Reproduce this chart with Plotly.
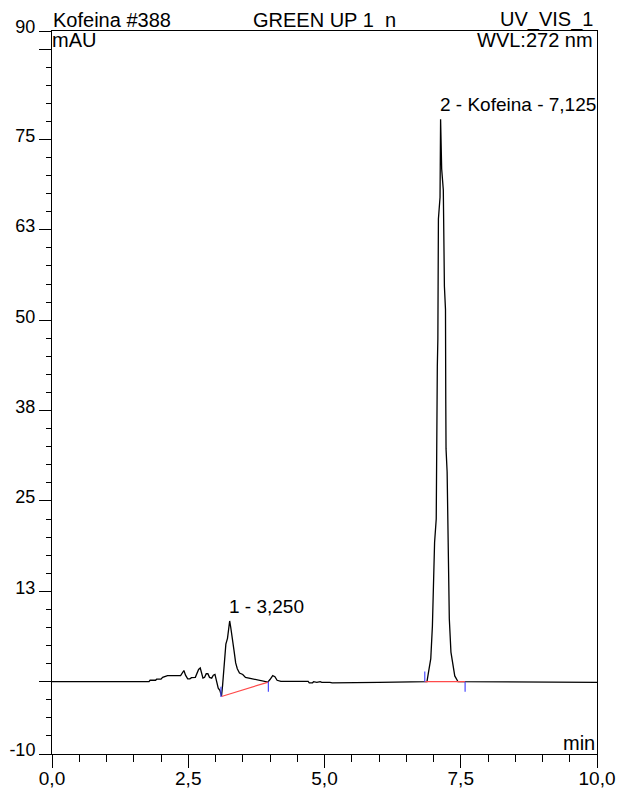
import plotly.graph_objects as go

# chromatogram trace (time in min, signal in mAU)
time_min = [0.0, 1.0, 1.78, 1.80, 1.90, 1.92, 2.00, 2.03, 2.08, 2.12, 2.36, 2.40, 2.42, 2.45,
            2.49, 2.53, 2.56, 2.63, 2.66, 2.69, 2.72, 2.74, 2.77, 2.80, 2.83, 2.86, 2.89, 2.93,
            2.96, 2.99, 3.02, 3.05, 3.08, 3.11, 3.13, 3.16, 3.19, 3.22, 3.26, 3.28, 3.30, 3.32,
            3.34, 3.37, 3.40, 3.44, 3.50, 3.55, 3.62, 3.70, 3.78, 3.86, 3.96, 4.00, 4.05, 4.09,
            4.13, 4.20, 4.70, 4.72, 4.78, 4.80, 4.86, 4.92, 4.95, 5.10, 5.14, 6.00, 6.80, 6.88,
            6.91, 6.95, 6.98, 7.02, 7.05, 7.06, 7.07, 7.08, 7.09, 7.12, 7.13, 7.15, 7.18, 7.20,
            7.22, 7.225, 7.23, 7.25, 7.27, 7.29, 7.32, 7.39, 7.45, 7.55, 7.75, 7.80, 10.0]
signal_mau = [0.0, 0.0, 0.0, 0.2, 0.2, 0.35, 0.35, 0.6, 0.7, 0.85, 0.85, 1.3, 1.55, 0.9,
              0.4, 0.4, 0.55, 0.6, 1.1, 1.7, 1.9, 1.2, 0.5, 0.6, 1.1, 1.1, 0.6, 0.5,
              0.9, 1.0, 0.2, -0.9, -1.2, -2.0, -0.5, 3.0, 5.2, 6.0, 8.4, 7.5, 6.6, 5.6,
              4.3, 2.6, 1.8, 1.2, 1.0, 0.6, 0.5, 0.3, 0.2, 0.1, -0.05, 0.3, 0.85, 0.7,
              0.2, 0.05, 0.05, -0.15, -0.15, 0.0, -0.1, 0.0, -0.1, -0.1, -0.15, -0.1, -0.1, 0.0,
              1.4, 3.2, 7.7, 19.3, 22.5, 39.0, 43.6, 47.4, 64.0, 67.0, 77.8, 70.9, 68.0, 54.7,
              51.5, 39.0, 32.2, 29.0, 15.6, 8.7, 4.1, 0.8, 0.0, 0.0, 0.0, -0.1, -0.1]

# integration baselines (red) and peak delimiters (blue)
baseline_t = [3.11, 3.97, None, 6.84, 7.58]
baseline_v = [-2.05, -0.05, None, 0.0, 0.0]
delim_t = [3.10, 3.10, None, 3.97, 3.97, None, 6.84, 6.84, None, 7.58, 7.58]
delim_v = [-0.7, -2.1, None, 0.0, -1.4, None, 1.4, 0.0, None, 0.0, -1.4]

peak_labels = ["1 - 3,250", "2 - Kofeina - 7,125"]
peak_t = [3.25, 7.125]
peak_v = [8.4, 77.8]

x_tickvals = [0, 2.5, 5, 7.5, 10]
x_ticktext = ["0,0", "2,5", "5,0", "7,5", "10,0"]
y_tickvals = [-10, 0, 12.5, 25, 37.5, 50, 62.5, 75, 87.5, 90]
y_ticktext = ["-10", "", "13", "25", "38", "50", "63", "75", "", "90"]

FONT = "Arial, Liberation Sans, sans-serif"

fig = go.Figure()
fig.add_trace(go.Scatter(x=time_min, y=signal_mau, mode="lines",
                         line=dict(color="black", width=1.3), hoverinfo="skip"))
fig.add_trace(go.Scatter(x=baseline_t, y=baseline_v, mode="lines",
                         line=dict(color="#ff4a4a", width=1.2), hoverinfo="skip"))
fig.add_trace(go.Scatter(x=delim_t, y=delim_v, mode="lines",
                         line=dict(color="#4a4aff", width=1.2), hoverinfo="skip"))

for lab, t, v in zip(peak_labels, peak_t, peak_v):
    fig.add_annotation(x=t, y=v, text=lab, showarrow=False, xanchor="left",
                       yanchor="bottom", yshift=2, xshift=-2,
                       font=dict(size=19, color="black", family=FONT))

hdr = dict(xref="paper", yref="paper", showarrow=False, font=dict(size=20, color="black", family=FONT))
fig.add_annotation(x=0, y=1, text="Kofeina #388", xanchor="left", yanchor="bottom", xshift=-1, yshift=-2, **hdr)
fig.add_annotation(x=0.5, y=1, text="GREEN UP 1  n", xanchor="center", yanchor="bottom", xshift=0, yshift=-2, **hdr)
fig.add_annotation(x=1, y=1, text="UV_VIS_1", xanchor="right", yanchor="bottom", xshift=-2, yshift=-2, **hdr)
fig.add_annotation(x=0, y=1, text="mAU", xanchor="left", yanchor="top", xshift=-2, yshift=4, **hdr)
fig.add_annotation(x=1, y=1, text="WVL:272 nm", xanchor="right", yanchor="top", xshift=-2, yshift=4, **hdr)
fig.add_annotation(x=1, y=0, text="min", xanchor="right", yanchor="bottom", xshift=0, yshift=-2, **hdr)

fig.update_layout(
    width=621, height=797,
    margin=dict(l=52, r=24, t=31, b=43, autoexpand=False),
    paper_bgcolor="white", plot_bgcolor="white",
    showlegend=False,
    font=dict(family=FONT, size=18, color="black"),
    xaxis=dict(range=[0, 10], tickmode="array", tickvals=x_tickvals, ticktext=x_ticktext,
               ticks="outside", ticklen=13, tickcolor="black", tickwidth=1,
               showline=True, linecolor="black", linewidth=1, mirror=True,
               showgrid=False, zeroline=False, automargin=False, ticklabelstandoff=-6,
               tickfont=dict(size=19),
               minor=dict(dtick=0.5, tick0=0, ticks="outside", ticklen=7, tickcolor="black")),
    yaxis=dict(range=[-10, 90], tickmode="array", tickvals=y_tickvals, ticktext=y_ticktext,
               ticks="outside", ticklen=12, tickcolor="black", tickwidth=1,
               showline=True, linecolor="black", linewidth=1, mirror=True,
               showgrid=False, zeroline=False, automargin=False, ticklabelshift=-4,
               tickfont=dict(size=18),
               minor=dict(dtick=2.5, tick0=0, ticks="outside", ticklen=5, tickcolor="black")),
)

fig.write_html("out.html", config={"displayModeBar": False},
               post_script="document.body.style.margin='0';document.body.style.overflow='hidden';")
